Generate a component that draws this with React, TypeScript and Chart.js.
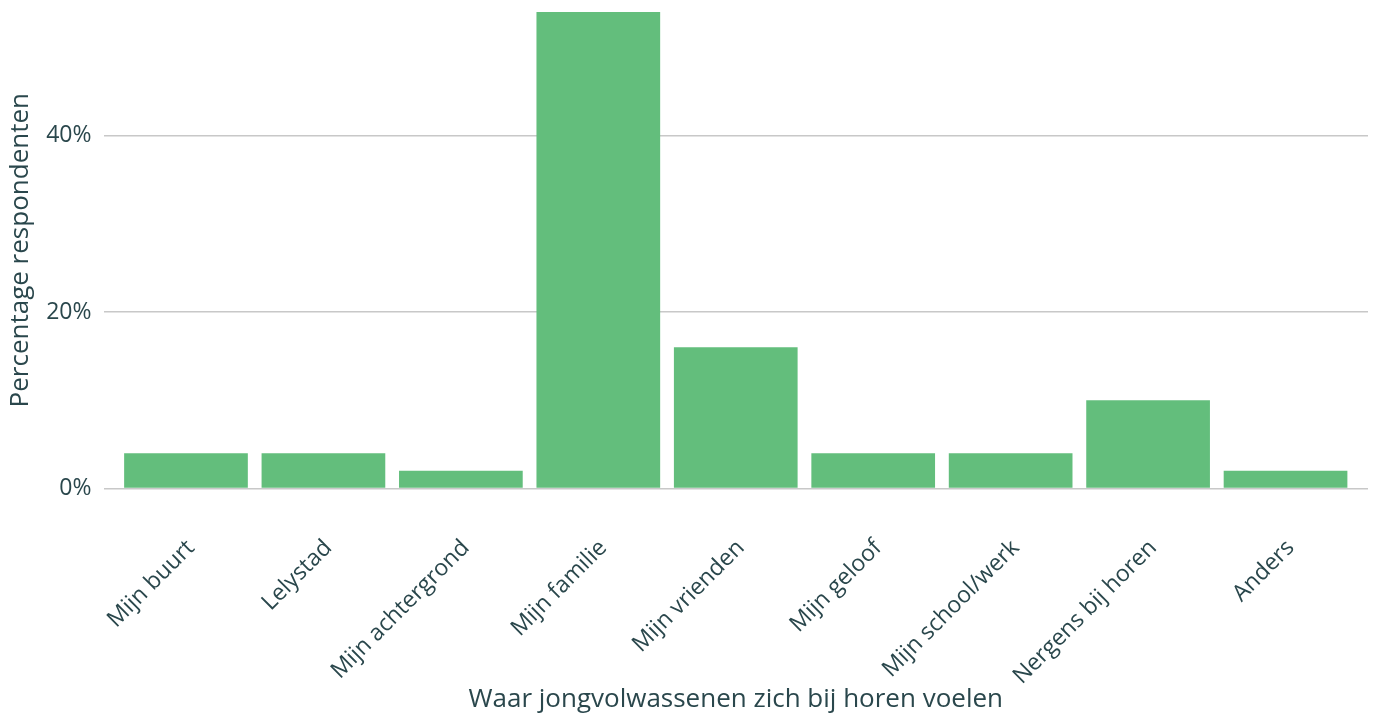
import React, { useEffect, useRef } from "react";
import { Chart, registerables } from "chart.js";

Chart.register(...registerables);

const categories = [
  "Mijn buurt",
  "Lelystad",
  "Mijn achtergrond",
  "Mijn familie",
  "Mijn vrienden",
  "Mijn geloof",
  "Mijn school/werk",
  "Nergens bij horen",
  "Anders",
];
const percentages = [4, 4, 2, 54, 16, 4, 4, 10, 2];
const yTicks = [0, 20, 40];
const xTitle = "Waar jongvolwassenen zich bij horen voelen";
const yTitle = "Percentage respondenten";

const textColor = "#2a474c";
const fontFamily = "'Open Sans', Lato, sans-serif";

export default function App() {
  const ref = useRef<HTMLCanvasElement | null>(null);

  useEffect(() => {
    document.body.style.margin = "0";
    const canvas = ref.current;
    if (!canvas) return;
    const chart = new Chart(canvas, {
      type: "bar",
      data: {
        datasets: [
          {
            data: percentages.map((v, i) => ({ x: i, y: v })),
            backgroundColor: "#63be7c",
            borderWidth: 0,
            barPercentage: 0.9,
            categoryPercentage: 1,
          },
        ],
      },
      options: {
        animation: false,
        responsive: true,
        maintainAspectRatio: false,
        layout: { padding: { top: 12, right: 9, left: 5, bottom: 0 } },
        plugins: {
          legend: { display: false },
          tooltip: { enabled: false },
        },
        scales: {
          x: {
            type: "linear",
            offset: false,
            min: -0.6,
            max: categories.length - 1 + 0.6,
            afterBuildTicks: (axis: any) => {
              axis.ticks = categories.map((_, i) => ({ value: i }));
            },
            grid: { display: false },
            border: { display: false },
            ticks: {
              autoSkip: false,
              minRotation: 45,
              maxRotation: 45,
              padding: 38,
              labelOffset: 5,
              color: textColor,
              font: { family: fontFamily, size: 23 },
              callback: (v: any) => categories[Math.round(Number(v))] ?? "",
            },
            title: {
              display: true,
              text: xTitle,
              color: textColor,
              font: { family: fontFamily, size: 26 },
              padding: { top: -44, bottom: 0 },
            },
          },
          y: {
            min: 0,
            max: 54,
            afterBuildTicks: (axis: any) => {
              axis.ticks = yTicks.map((v) => ({ value: v }));
            },
            afterFit: (axis: any) => {
              axis.paddingTop = 0;
            },
            grid: { color: "#c8c8c8", lineWidth: 1.5, drawTicks: false },
            border: { display: false },
            ticks: {
              padding: 12,
              color: textColor,
              font: { family: fontFamily, size: 23 },
              callback: (v: any) => `${v}%`,
            },
            title: {
              display: true,
              text: yTitle,
              color: textColor,
              font: { family: fontFamily, size: 26 },
              padding: { top: 0, bottom: -2 },
            },
          },
        },
      },
    });
    return () => chart.destroy();
  }, []);

  return (
    <div style={{ width: "100vw", height: "100vh", position: "relative" }}>
      <canvas ref={ref} />
    </div>
  );
}
